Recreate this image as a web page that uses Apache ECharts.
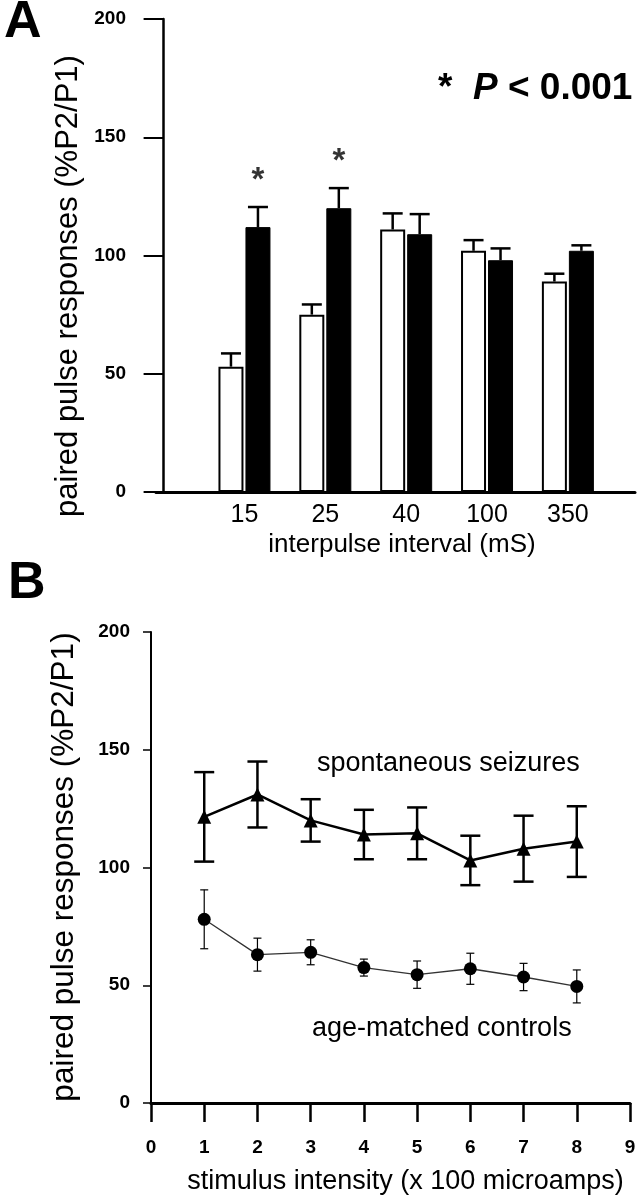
<!DOCTYPE html>
<html>
<head>
<meta charset="utf-8">
<script src="https://cdn.jsdelivr.net/npm/echarts@6/dist/echarts.min.js"></script>
<style>
  html, body { margin: 0; padding: 0; background: #fff; }
  #chart { width: 644px; height: 1199px; }
</style>
</head>
<body>
<div id="chart"></div>
<script>
// panel A: paired pulse ratio by interpulse interval
const intervals = ['15', '25', '40', '100', '350']
const ctrlMean = [53, 75, 111, 102, 89]
const ctrlErr = [5.6, 4.3, 6.8, 4.5, 3.3]
const seizMean = [112, 120, 109, 98, 102]
const seizErr = [8.5, 8.5, 8.5, 5, 2.3]
const sigFlags = [true, true, false, false, false]

// panel B: paired pulse ratio by stimulus intensity
const intensity = [1, 2, 3, 4, 5, 6, 7, 8]
const seizB = [121.5, 131, 120, 114, 114.5, 103, 108, 111]
const seizBErr = [19, 14, 9, 10.5, 11, 10.5, 14, 15]
const ctrlB = [78, 63, 64, 57.5, 54.5, 57, 53.5, 49.5]
const ctrlBErr = [12.5, 7, 5.3, 3.6, 5.8, 6.6, 5.8, 7]

const FONT = "'Liberation Sans', Arial, Helvetica, sans-serif"
const BAR_OFF = 13.5 // half of bar width + gap

// error bar drawer (offset in px, half cap width, line width, both sides?)
function errBar(offset, cap, lw, both) {
    return function (params, api) {
        const x = api.value(0)
        const m = api.value(1)
        const e = api.value(2)
        const hi = api.coord([x, m + e])
        const lo = api.coord([x, both ? m - e : m])
        const cx = hi[0] + offset
        const st = { stroke: '#000', lineWidth: lw }
        const kids = [
            { type: 'line', shape: { x1: cx, y1: hi[1], x2: cx, y2: lo[1] }, style: st },
            { type: 'line', shape: { x1: cx - cap, y1: hi[1], x2: cx + cap, y2: hi[1] }, style: st }
        ]
        if (both) {
            kids.push({ type: 'line', shape: { x1: cx - cap, y1: lo[1], x2: cx + cap, y2: lo[1] }, style: st })
        }
        return { type: 'group', children: kids }
    }
}

const yAxisBase = {
    type: 'value',
    min: 0,
    max: 200,
    interval: 50,
    splitLine: { show: false },
    axisLine: { show: true, lineStyle: { color: '#000', width: 2.5 } },
    axisLabel: { color: '#000', fontFamily: FONT, fontWeight: 'bold', fontSize: 19 }
}

const chart = echarts.init(document.getElementById('chart'))

const option = {
    backgroundColor: '#fff',
    animation: false,
    grid: [
        { left: 156, width: 479, top: 19, height: 473 },
        { left: 151, width: 479, top: 632, height: 471 }
    ],
    xAxis: [
        {
            gridIndex: 0,
            type: 'value',
            min: -0.094,
            max: 5.83,
            splitLine: { show: false },
            axisTick: { show: false },
            axisLine: { lineStyle: { color: '#000', width: 3 } },
            axisLabel: {
                customValues: [1, 2, 3, 4, 5],
                formatter: function (v) { return intervals[Math.round(v) - 1] },
                color: '#000',
                fontFamily: FONT,
                fontSize: 25,
                margin: 11
            },
            name: 'interpulse interval (mS)',
            nameLocation: 'middle',
            nameGap: 40,
            nameTextStyle: { color: '#000', fontFamily: FONT, fontSize: 26, padding: [0, 0, 0, 13] }
        },
        {
            gridIndex: 1,
            type: 'value',
            min: 0,
            max: 9,
            interval: 1,
            splitLine: { show: false },
            axisTick: { show: true, length: 19, lineStyle: { color: '#000', width: 2.5 } },
            axisLine: { lineStyle: { color: '#000', width: 3 } },
            axisLabel: { color: '#000', fontFamily: FONT, fontWeight: 'bold', fontSize: 19, margin: 35 },
            name: 'stimulus intensity (x 100 microamps)',
            nameLocation: 'middle',
            nameGap: 65,
            nameTextStyle: { color: '#000', fontFamily: FONT, fontSize: 27, padding: [0, 0, 0, 30] }
        }
    ],
    yAxis: [
        Object.assign({}, yAxisBase, {
            gridIndex: 0,
            axisTick: { show: true, length: 20, lineStyle: { color: '#000', width: 2 } },
            axisLabel: Object.assign({}, yAxisBase.axisLabel, { margin: 30 })
        }),
        Object.assign({}, yAxisBase, {
            gridIndex: 1,
            axisLine: { show: true, lineStyle: { color: '#000', width: 2 } },
            axisTick: { show: true, length: 8, lineStyle: { color: '#000', width: 1.5 } },
            axisLabel: Object.assign({}, yAxisBase.axisLabel, { margin: 21 })
        })
    ],
    graphic: [
        { type: 'text', style: { text: 'A', x: 4, y: 23, fontFamily: FONT, fontWeight: 'bold', fontSize: 52, fill: '#000', verticalAlign: 'middle' } },
        { type: 'text', style: { text: 'B', x: 8, y: 584, fontFamily: FONT, fontWeight: 'bold', fontSize: 52, fill: '#000', verticalAlign: 'middle' } },
        {
            type: 'text',
            x: 68, y: 286, rotation: Math.PI / 2,
            style: { text: 'paired pulse responses (%P2/P1)', fontFamily: FONT, fontSize: 31, fill: '#000', align: 'center', verticalAlign: 'middle' }
        },
        {
            type: 'text',
            x: 64, y: 867, rotation: Math.PI / 2,
            style: { text: 'paired pulse responses (%P2/P1)', fontFamily: FONT, fontSize: 31.5, fill: '#000', align: 'center', verticalAlign: 'middle' }
        },
        {
            type: 'text',
            x: 438, y: 89,
            style: {
                text: '*  {i|P} < 0.001',
                rich: { i: { fontStyle: 'italic', fontWeight: 'bold', fontSize: 37, fontFamily: FONT } },
                fontFamily: FONT, fontWeight: 'bold', fontSize: 37, fill: '#000', verticalAlign: 'middle'
            }
        },
        { type: 'text', x: 317, y: 764, style: { text: 'spontaneous seizures', fontFamily: FONT, fontSize: 27, fill: '#000', verticalAlign: 'middle' } },
        { type: 'text', x: 312, y: 1029, style: { text: 'age-matched controls', fontFamily: FONT, fontSize: 27, fill: '#000', verticalAlign: 'middle' } }
    ],
    series: [
        {
            name: 'control',
            type: 'bar',
            xAxisIndex: 0,
            yAxisIndex: 0,
            barWidth: 25,
            barGap: '8%',
            data: ctrlMean.map((v, i) => [i + 1, v]),
            itemStyle: { color: '#fff', borderColor: '#000', borderWidth: 2 }
        },
        {
            name: 'seizure',
            type: 'bar',
            xAxisIndex: 0,
            yAxisIndex: 0,
            barWidth: 25,
            barGap: '8%',
            data: seizMean.map((v, i) => [i + 1, v]),
            itemStyle: { color: '#000', borderColor: '#000', borderWidth: 1 }
        },
        {
            type: 'custom',
            xAxisIndex: 0,
            yAxisIndex: 0,
            renderItem: errBar(-BAR_OFF, 10, 2.5, false),
            data: ctrlMean.map((v, i) => [i + 1, v, ctrlErr[i]]),
            encode: { x: 0, y: 1 },
            z: 3
        },
        {
            type: 'custom',
            xAxisIndex: 0,
            yAxisIndex: 0,
            renderItem: errBar(BAR_OFF, 10, 2.5, false),
            data: seizMean.map((v, i) => [i + 1, v, seizErr[i]]),
            encode: { x: 0, y: 1 },
            z: 3
        },
        {
            // significance markers
            type: 'scatter',
            xAxisIndex: 0,
            yAxisIndex: 0,
            symbolSize: 0,
            data: sigFlags.map((f, i) => f ? [i + 1, seizMean[i] + seizErr[i]] : null).filter(d => d),
            label: {
                show: true,
                position: 'top',
                distance: 10,
                offset: [BAR_OFF, 0],
                formatter: '*',
                color: '#000',
                fontFamily: FONT,
                fontWeight: 'bold',
                fontSize: 33
            },
            z: 4
        },
        {
            name: 'spontaneous seizures',
            type: 'line',
            xAxisIndex: 1,
            yAxisIndex: 1,
            data: intensity.map((x, i) => [x, seizB[i]]),
            symbol: 'triangle',
            symbolSize: 14,
            itemStyle: { color: '#000' },
            lineStyle: { color: '#000', width: 2.5 },
            z: 5
        },
        {
            type: 'custom',
            xAxisIndex: 1,
            yAxisIndex: 1,
            renderItem: errBar(0, 10, 2.5, true),
            data: intensity.map((x, i) => [x, seizB[i], seizBErr[i]]),
            encode: { x: 0, y: 1 },
            z: 4
        },
        {
            name: 'age-matched controls',
            type: 'line',
            xAxisIndex: 1,
            yAxisIndex: 1,
            data: intensity.map((x, i) => [x, ctrlB[i]]),
            symbol: 'circle',
            symbolSize: 13,
            itemStyle: { color: '#000' },
            lineStyle: { color: '#333', width: 1.3 },
            z: 5
        },
        {
            type: 'custom',
            xAxisIndex: 1,
            yAxisIndex: 1,
            renderItem: errBar(0, 4, 1.2, true),
            data: intensity.map((x, i) => [x, ctrlB[i], ctrlBErr[i]]),
            encode: { x: 0, y: 1 },
            z: 4
        }
    ]
}

chart.setOption(option)
</script>
</body>
</html>
